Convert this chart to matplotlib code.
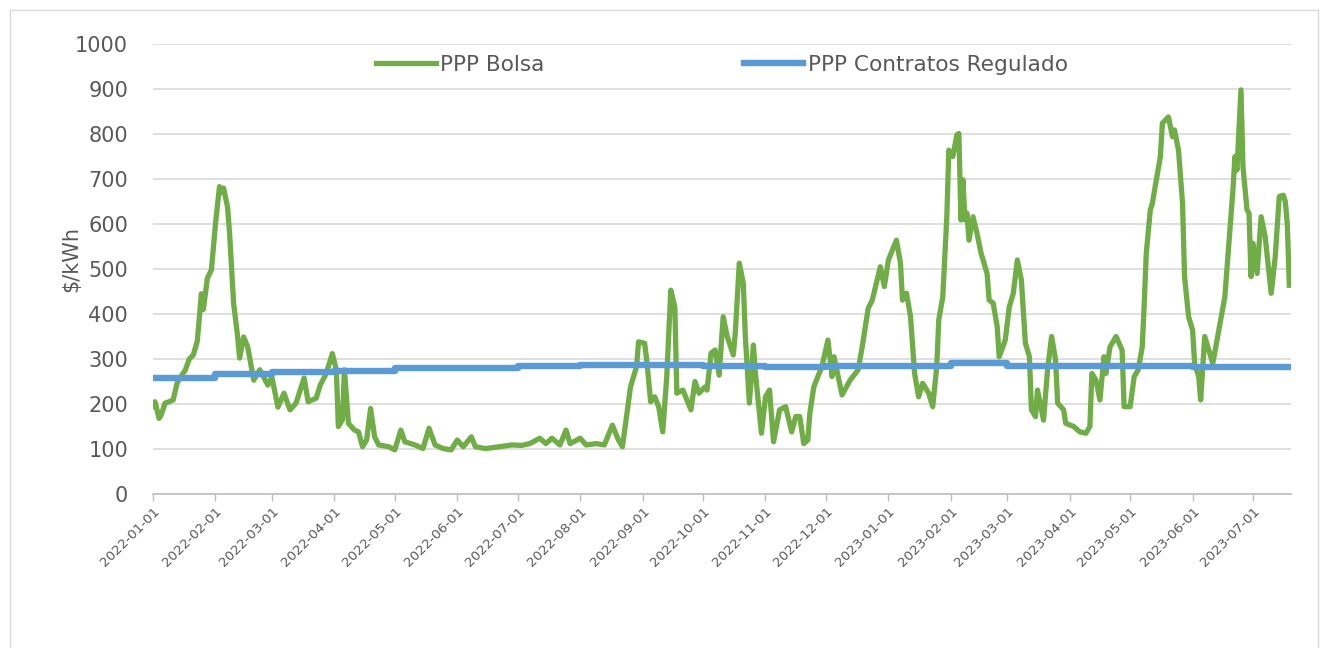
import matplotlib
matplotlib.use('Agg')
import matplotlib.pyplot as plt
from matplotlib.lines import Line2D
import pandas as pd

# ---------------- data ----------------
start_date = '2022-01-01'
end_date = '2023-07-19'

# PPP Bolsa: days since 2022-01-01 and value ($/kWh)
bolsa_day = [0, 1, 3, 4, 6, 8, 10, 12, 14, 16, 18, 20, 22, 24, 25, 27, 29, 31, 33, 34,
             35, 37, 38, 40, 42, 43, 45, 47, 50, 53, 57, 59, 62, 65, 68, 71, 75, 77, 81, 83,
             86, 89, 91, 92, 94, 95, 97, 100, 102, 104, 106, 108, 110, 112, 117, 120, 123, 125, 130, 134,
             137, 140, 144, 148, 151, 154, 158, 160, 165, 172, 178, 183, 187, 192, 195, 198, 202, 205, 207, 212,
             215, 220, 224, 228, 231, 233, 235, 237, 240, 241, 244, 245, 247, 249, 251, 253, 255, 257, 259, 260,
             263, 265, 267, 269, 271, 274, 275, 277, 279, 281, 283, 285, 288, 289, 291, 293, 294, 296, 298, 299,
             302, 304, 306, 308, 311, 314, 317, 319, 321, 323, 325, 326, 328, 330, 332, 335, 337, 338, 342, 346,
             350, 352, 355, 357, 361, 363, 365, 367, 369, 371, 372, 374, 376, 378, 380, 382, 385, 387, 389, 390,
             392, 394, 395, 397, 399, 400, 401, 402, 403, 404, 405, 407, 409, 411, 414, 415, 417, 419, 420, 423,
             425, 427, 429, 431, 433, 435, 436, 438, 439, 441, 442, 444, 446, 448, 449, 452, 453, 457, 460, 463,
             465, 466, 468, 470, 472, 473, 475, 478, 481, 482, 485, 487, 489, 491, 492, 493, 495, 496, 498, 500,
             501, 504, 506, 507, 509, 511, 512, 514, 516, 517, 519, 520, 522, 524, 526, 529, 532, 534, 536, 537,
             538, 540, 541, 543, 544, 545, 546, 548, 550, 552, 555, 557, 559, 561, 562, 563, 564]
bolsa_val = [195, 205, 168, 175, 202, 205, 209, 247, 262, 275, 300, 309, 340, 445, 410, 480, 498, 600, 683, 670,
             680, 638, 580, 424, 350, 302, 349, 327, 253, 276, 242, 260, 193, 224, 187, 202, 258, 205, 213, 242,
             268, 312, 276, 150, 165, 276, 157, 142, 138, 105, 120, 190, 127, 109, 105, 98, 142, 116, 109, 101,
             146, 109, 101, 98, 120, 105, 127, 105, 101, 105, 109, 108, 112, 124, 112, 124, 109, 142, 112, 124,
             109, 112, 109, 153, 120, 105, 172, 238, 283, 338, 335, 300, 205, 216, 194, 138, 261, 453, 416, 224,
             231, 209, 187, 250, 224, 238, 231, 313, 320, 264, 394, 350, 309, 357, 513, 468, 350, 202, 331, 268,
             135, 216, 231, 116, 187, 194, 138, 172, 172, 112, 120, 179, 238, 261, 283, 342, 261, 305, 220, 253,
             276, 327, 413, 431, 505, 461, 520, 542, 564, 513, 431, 446, 394, 268, 216, 246, 224, 194, 283, 387,
             438, 616, 764, 750, 798, 801, 609, 698, 609, 624, 564, 616, 579, 535, 490, 431, 424, 372, 305, 342,
             416, 446, 520, 476, 335, 305, 187, 172, 231, 187, 164, 276, 350, 298, 202, 187, 157, 150, 138, 135,
             150, 268, 253, 209, 305, 268, 327, 350, 320, 194, 194, 261, 276, 327, 424, 535, 631, 646, 698, 750,
             824, 838, 794, 809, 764, 646, 483, 394, 364, 290, 261, 209, 350, 320, 290, 364, 438, 557, 675, 750,
             720, 898, 727, 631, 624, 483, 557, 490, 616, 572, 446, 527, 661, 664, 650, 600, 464]

# PPP Contratos Regulado: monthly level ($/kWh)
contratos_month = ['2022-01-01', '2022-02-01', '2022-03-01', '2022-04-01', '2022-05-01', '2022-06-01',
                   '2022-07-01', '2022-08-01', '2022-09-01', '2022-10-01', '2022-11-01', '2022-12-01',
                   '2023-01-01', '2023-02-01', '2023-03-01', '2023-04-01', '2023-05-01', '2023-06-01',
                   '2023-07-01']
contratos_val = [257, 266, 271, 273, 280, 281, 285, 286, 286, 284, 283, 284,
                 284, 292, 285, 284, 284, 283, 282]

series_names = ['PPP Bolsa', 'PPP Contratos Regulado']
tick_months = pd.date_range('2022-01-01', '2023-07-01', freq='MS')
y_ticks = [0, 100, 200, 300, 400, 500, 600, 700, 800, 900, 1000]

# ---------------- build series ----------------
t0 = pd.Timestamp(start_date)
bolsa_dates = [t0 + pd.Timedelta(days=d) for d in bolsa_day]
c_dates = [pd.Timestamp(m) for m in contratos_month] + [pd.Timestamp(end_date)]
c_vals = contratos_val + [contratos_val[-1]]

# ---------------- figure ----------------
W, H = 1325, 648
fig = plt.figure(figsize=(W / 100, H / 100), dpi=100)
fig.patch.set_facecolor('white')

left, right, top, bottom = 153, 1291, 44, 494
ax = fig.add_axes([left / W, 1 - bottom / H, (right - left) / W, (bottom - top) / H])

GREEN = '#70AD47'
BLUE = '#5B9BD5'
TXT = '#595959'

ax.plot(bolsa_dates, bolsa_val, color=GREEN, lw=3.8, solid_joinstyle='round', zorder=3)
ax.plot(c_dates, c_vals, color=BLUE, lw=4.6, drawstyle='steps-post', zorder=4)

ax.set_ylim(0, 1000)
ax.set_yticks(y_ticks)
ax.set_xlim(t0, pd.Timestamp(end_date) + pd.Timedelta(hours=20))
ax.set_xticks(tick_months)
ax.set_xticklabels([d.strftime('%Y-%m-%d') for d in tick_months], rotation=45,
                   ha='right', rotation_mode='anchor', fontsize=9.7, color=TXT)
ax.tick_params(axis='y', length=0, labelsize=15, labelcolor=TXT, pad=18)
ax.tick_params(axis='x', length=5, color='#BFBFBF', width=1, pad=3)

ax.grid(axis='y', color='#D9D9D9', lw=1.2)
ax.set_axisbelow(True)
for s in ['left', 'right', 'top']:
    ax.spines[s].set_visible(False)
ax.spines['bottom'].set_color('#BFBFBF')
ax.spines['bottom'].set_linewidth(1.2)

ax.set_ylabel('$/kWh', fontsize=15, color=TXT)
ax.yaxis.set_label_coords((81 - left) / (right - left), (bottom - 259) / (bottom - top))

handles = [Line2D([], [], color=GREEN, lw=3.8), Line2D([], [], color=BLUE, lw=4.6)]
ax.legend(handles, series_names, loc='upper center',
          bbox_to_anchor=(0.5, 1.02), ncol=2, frameon=False, fontsize=15.6,
          handlelength=2.75, handletextpad=0.2, columnspacing=9.2, labelcolor=TXT)

# chart-area border
for xs, ys in [([10, 10], [10, H]), ([10, 1318], [10, 10]), ([1318, 1318], [10, H])]:
    fig.add_artist(Line2D([x / W for x in xs], [1 - y / H for y in ys], color='#D9D9D9', lw=1))

fig.savefig('out.png', dpi=100)
